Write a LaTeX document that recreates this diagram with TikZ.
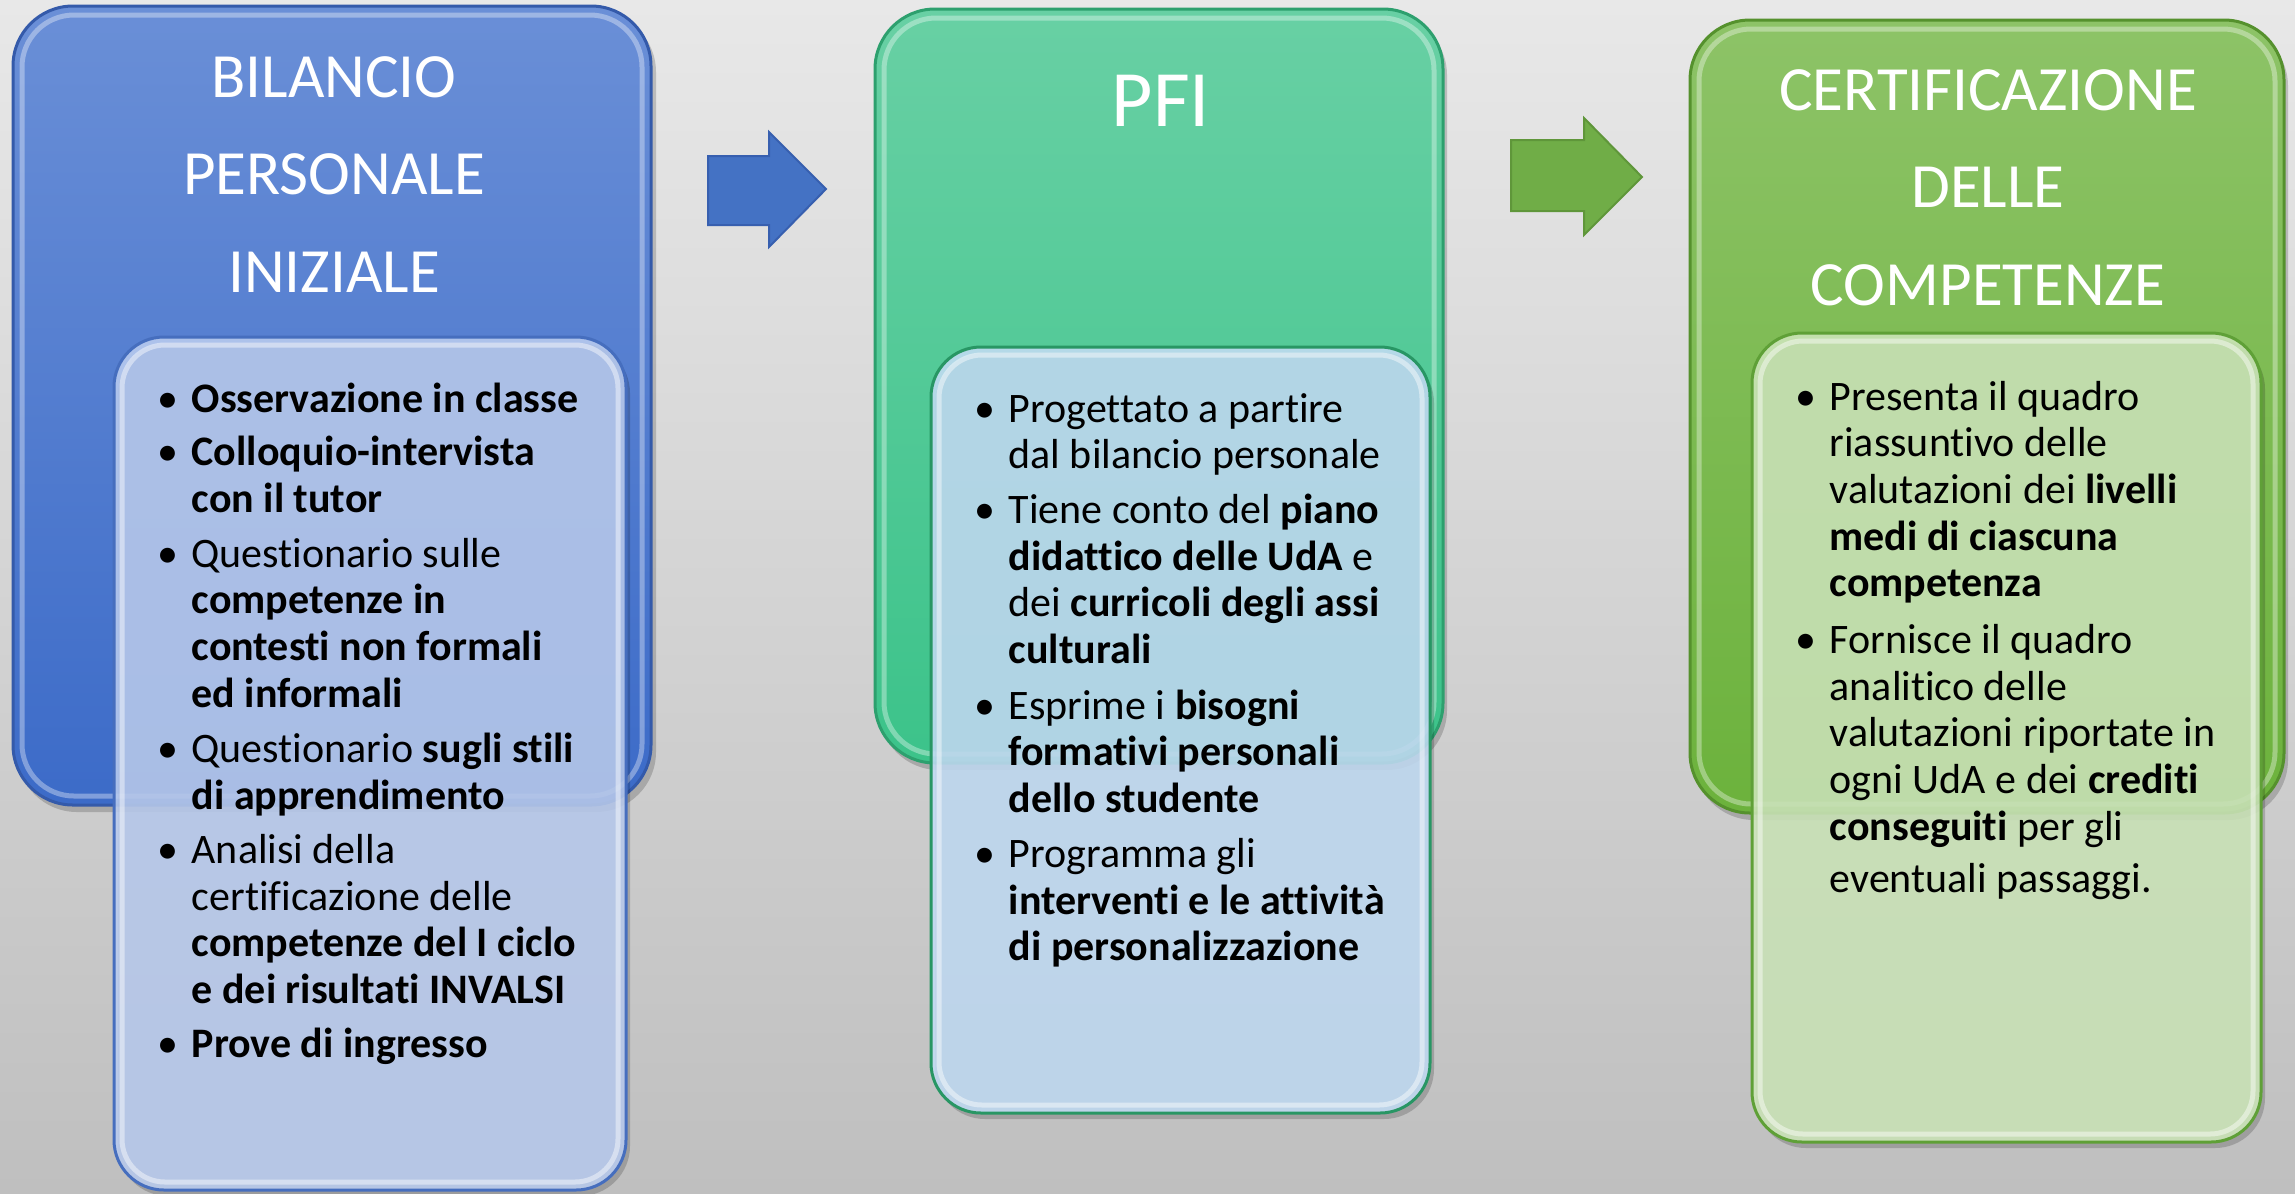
\documentclass[tikz,border=0pt]{standalone}
\usepackage{fontspec}
\setmainfont{Carlito}[Ligatures={NoCommon}]
\definecolor{bgtop}{RGB}{232,232,232}
\definecolor{bgbot}{RGB}{191,191,191}
\definecolor{oAtop}{RGB}{106,143,215}
\definecolor{oAbot}{RGB}{60,107,200}
\definecolor{oAedge}{RGB}{52,90,170}
\definecolor{iA}{RGB}{186,204,239}
\definecolor{iAedge}{RGB}{70,110,190}
\definecolor{oBtop}{RGB}{104,208,164}
\definecolor{oBbot}{RGB}{60,195,138}
\definecolor{oBedge}{RGB}{45,160,110}
\definecolor{iB}{RGB}{194,220,244}
\definecolor{iBedge}{RGB}{40,150,100}
\definecolor{oCtop}{RGB}{141,195,103}
\definecolor{oCbot}{RGB}{108,178,60}
\definecolor{oCedge}{RGB}{85,145,45}
\definecolor{iC}{RGB}{205,230,186}
\definecolor{iCedge}{RGB}{95,160,55}
\definecolor{arrA}{RGB}{68,114,196}
\definecolor{arrAedge}{RGB}{55,95,175}
\definecolor{arrB}{RGB}{112,173,71}
\definecolor{arrBedge}{RGB}{95,150,58}
\newcommand{\mybul}{\llap{•\hspace{1.3mm}}}
\tikzset{
  outerbox/.style n args={3}{rounded corners=6mm, top color=#1, bottom color=#2, draw=#3, line width=0.3mm},
  innerbox/.style n args={2}{rounded corners=5mm, fill=#1, fill opacity=0.88, draw=#2, line width=0.3mm},
  shadowbox/.style={rounded corners=6mm, fill=black, opacity=0.18},
  gloss/.style={draw=white, opacity=0.35, line width=0.5mm},
  titletext/.style={font=\fontsize{6.3mm}{9.75mm}\selectfont, text=white, inner sep=0pt, anchor=base},
  bigtitle/.style={font=\fontsize{8mm}{8mm}\selectfont, text=white, inner sep=0pt, anchor=base},
  bodytext/.style={font=\fontsize{4.2mm}{4.67mm}\selectfont, text=black, inner sep=0pt, anchor=base west},
  blockarrow/.style n args={2}{fill=#1, draw=#2, line width=0.2mm, line join=miter}
}
\begin{document}
\begin{tikzpicture}[x=0.1mm,y=-0.1mm]
\useasboundingbox (0,0) rectangle (2295,1193);
\fill[top color=bgtop, bottom color=bgbot] (0,0) rectangle (2295,1193);

% ---- Box A: Bilancio personale iniziale ----
\fill[shadowbox] (17,12) rectangle (656,812);
\path[outerbox={oAtop}{oAbot}{oAedge}] (13,6) rectangle (651,805);
\draw[gloss, rounded corners=5.2mm] (22,15) rectangle (642,796);
\node[titletext] (tA) at (334,97) {\begin{tabular}[t]{@{}c@{}}BILANCIO\\PERSONALE\\INIZIALE\end{tabular}};
\fill[shadowbox, rounded corners=5mm] (118,343) rectangle (630,1196);
\path[innerbox={iA}{iAedge}] (114,337) rectangle (626,1190);
\draw[gloss, opacity=0.45, rounded corners=4.3mm] (122,345) rectangle (618,1182);
\node[bodytext] (lA) at (191,412) {\begin{tabular}[t]{@{}l@{}}
\mybul\textbf{Osservazione in classe}\\[0.7mm]
\mybul\textbf{Colloquio-intervista}\\
\textbf{con il tutor}\\[0.8mm]
\mybul Questionario sulle\\
\textbf{competenze in}\\
\textbf{contesti non formali}\\
\textbf{ed informali}\\[0.9mm]
\mybul Questionario \textbf{sugli stili}\\
\textbf{di apprendimento}\\[0.7mm]
\mybul Analisi della\\
certificazione delle\\
\textbf{competenze del I ciclo}\\
\textbf{e dei risultati INVALSI}\\[0.7mm]
\mybul\textbf{Prove di ingresso}
\end{tabular}};

% ---- Arrow A ----
\path[blockarrow={arrA}{arrAedge}] (708,156) -- (769,156) -- (769,132) -- (826,189) -- (769,247) -- (769,225) -- (708,225) -- cycle;

% ---- Box B: PFI ----
\fill[shadowbox] (879,15) rectangle (1447,770);
\path[outerbox={oBtop}{oBbot}{oBedge}] (875,9) rectangle (1443,763);
\draw[gloss, rounded corners=5.2mm] (884,18) rectangle (1434,754);
\node[bigtitle] (tB) at (1161,126) {PFI};
\fill[shadowbox, rounded corners=5mm] (935,353) rectangle (1434,1119);
\path[innerbox={iB}{iBedge}] (931,347) rectangle (1430,1113);
\draw[gloss, opacity=0.45, rounded corners=4.3mm] (939,355) rectangle (1422,1105);
\node[bodytext] (lB) at (1008,422) {\begin{tabular}[t]{@{}l@{}}
\mybul Progettato a partire\\
dal bilancio personale\\[0.8mm]
\mybul Tiene conto del \textbf{piano}\\
\textbf{didattico delle UdA} e\\
dei \textbf{curricoli degli assi}\\
\textbf{culturali}\\[0.9mm]
\mybul Esprime i \textbf{bisogni}\\
\textbf{formativi personali}\\
\textbf{dello studente}\\[0.8mm]
\mybul Programma gli\\
\textbf{interventi e le attività}\\
\textbf{di personalizzazione}
\end{tabular}};

% ---- Arrow B ----
\path[blockarrow={arrB}{arrBedge}] (1511,140) -- (1584,140) -- (1584,118) -- (1642,177) -- (1584,235) -- (1584,211) -- (1511,211) -- cycle;

% ---- Box C: Certificazione delle competenze ----
\fill[shadowbox] (1694,26) rectangle (2288,820);
\path[outerbox={oCtop}{oCbot}{oCedge}] (1690,20) rectangle (2284,813);
\draw[gloss, rounded corners=5.2mm] (1699,29) rectangle (2275,804);
\node[titletext] (tC) at (1988,110) {\begin{tabular}[t]{@{}c@{}}CERTIFICAZIONE\\DELLE\\COMPETENZE\end{tabular}};
\fill[shadowbox, rounded corners=5mm] (1756,339) rectangle (2265,1148);
\path[innerbox={iC}{iCedge}] (1752,333) rectangle (2261,1142);
\draw[gloss, opacity=0.45, rounded corners=4.3mm] (1760,341) rectangle (2253,1134);
\node[bodytext] (lC) at (1829,410) {\begin{tabular}[t]{@{}l@{}}
\mybul Presenta il quadro\\
riassuntivo delle\\
valutazioni dei \textbf{livelli}\\
\textbf{medi di ciascuna}\\
\textbf{competenza}\\[1mm]
\mybul Fornisce il quadro\\
analitico delle\\
valutazioni riportate in\\
ogni UdA e dei \textbf{crediti}\\
\textbf{conseguiti} per gli\\[0.5mm]
eventuali passaggi.
\end{tabular}};
\end{tikzpicture}
\end{document}
